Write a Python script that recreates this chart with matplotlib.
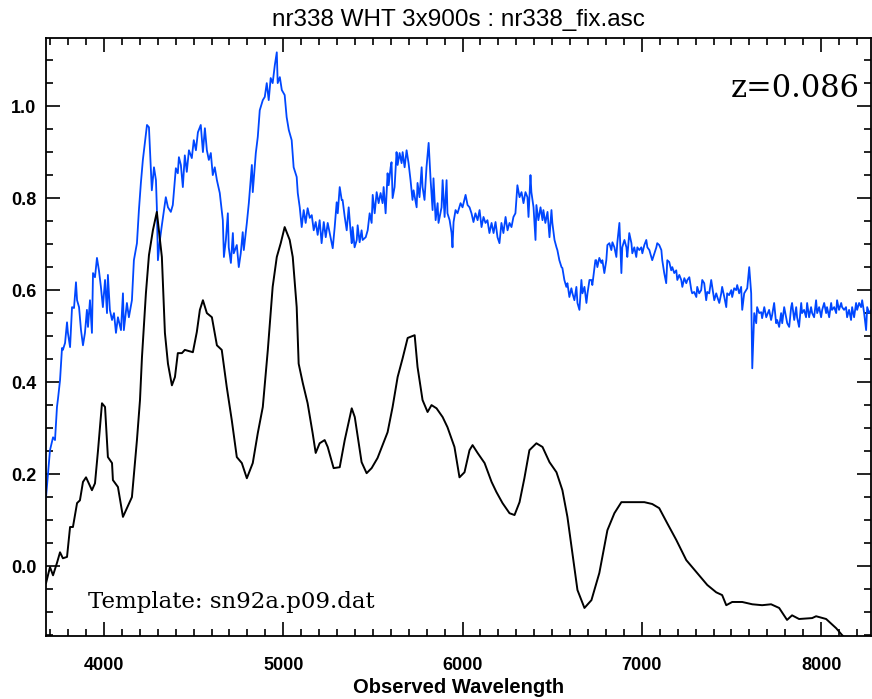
import matplotlib
matplotlib.use("Agg")
import matplotlib.pyplot as plt
from matplotlib.ticker import MultipleLocator

# observed spectrum (blue)
obs_wave = [3677, 3699, 3716, 3727, 3738, 3744, 3755, 3766, 3771, 3783, 3794, 3799, 3811, 3822,
            3833, 3844, 3850, 3861, 3872, 3883, 3894, 3905, 3911, 3922, 3933, 3939, 3950, 3961,
            3972, 3983, 3994, 4006, 4017, 4022, 4033, 4045, 4056, 4067, 4078, 4095, 4106, 4111,
            4128, 4139, 4156, 4167, 4184, 4195, 4206, 4217, 4228, 4240, 4251, 4262, 4267, 4279,
            4290, 4295, 4301, 4312, 4323, 4345, 4357, 4373, 4384, 4401, 4412, 4418, 4429, 4440,
            4451, 4462, 4474, 4490, 4501, 4513, 4524, 4540, 4552, 4563, 4574, 4585, 4596, 4607,
            4618, 4630, 4646, 4663, 4669, 4680, 4691, 4696, 4708, 4719, 4724, 4741, 4752, 4763,
            4774, 4780, 4797, 4808, 4825, 4830, 4847, 4858, 4869, 4886, 4897, 4908, 4919, 4930,
            4941, 4953, 4964, 4969, 4981, 4992, 5008, 5019, 5031, 5047, 5058, 5075, 5081, 5092,
            5103, 5114, 5125, 5136, 5148, 5159, 5170, 5181, 5192, 5203, 5214, 5226, 5237, 5248,
            5259, 5276, 5287, 5298, 5304, 5315, 5326, 5331, 5343, 5354, 5365, 5376, 5382, 5387,
            5398, 5410, 5415, 5426, 5437, 5443, 5460, 5471, 5482, 5493, 5499, 5510, 5521, 5532,
            5543, 5554, 5560, 5571, 5582, 5588, 5599, 5604, 5610, 5621, 5632, 5638, 5649, 5660,
            5666, 5677, 5688, 5699, 5710, 5721, 5727, 5744, 5749, 5760, 5772, 5777, 5788, 5799,
            5811, 5822, 5833, 5838, 5850, 5861, 5866, 5883, 5889, 5900, 5911, 5916, 5928, 5939,
            5944, 5950, 5961, 5972, 5989, 6000, 6017, 6028, 6039, 6050, 6061, 6072, 6084, 6095,
            6106, 6117, 6128, 6139, 6150, 6162, 6173, 6184, 6195, 6206, 6217, 6228, 6240, 6251,
            6262, 6273, 6284, 6295, 6306, 6318, 6329, 6340, 6351, 6362, 6368, 6379, 6384, 6396,
            6407, 6412, 6423, 6435, 6446, 6451, 6462, 6474, 6485, 6496, 6501, 6513, 6524, 6529,
            6540, 6552, 6557, 6568, 6579, 6585, 6596, 6607, 6613, 6624, 6635, 6641, 6652, 6663,
            6669, 6680, 6691, 6697, 6708, 6719, 6724, 6741, 6746, 6752, 6763, 6774, 6780, 6791,
            6802, 6808, 6819, 6830, 6836, 6847, 6858, 6863, 6875, 6886, 6891, 6903, 6914, 6919,
            6930, 6942, 6947, 6958, 6969, 6975, 6986, 6997, 7003, 7014, 7025, 7031, 7042, 7053,
            7058, 7070, 7081, 7086, 7097, 7109, 7114, 7125, 7136, 7142, 7153, 7164, 7170, 7181,
            7192, 7198, 7209, 7220, 7226, 7237, 7248, 7254, 7265, 7276, 7281, 7292, 7304, 7309,
            7320, 7331, 7337, 7348, 7359, 7365, 7376, 7387, 7393, 7404, 7415, 7421, 7432, 7443,
            7448, 7460, 7471, 7476, 7487, 7499, 7504, 7515, 7526, 7532, 7543, 7554, 7560, 7571,
            7582, 7588, 7599, 7610, 7616, 7627, 7638, 7643, 7655, 7666, 7671, 7683, 7694, 7699,
            7710, 7721, 7727, 7738, 7749, 7755, 7766, 7777, 7783, 7794, 7805, 7811, 7822, 7833,
            7838, 7850, 7861, 7866, 7877, 7889, 7894, 7905, 7916, 7922, 7933, 7944, 7950, 7961,
            7972, 7978, 7989, 8000, 8006, 8017, 8028, 8033, 8045, 8056, 8061, 8073, 8084, 8089,
            8100, 8112, 8117, 8128, 8139, 8145, 8156, 8167, 8173, 8184, 8195, 8201, 8212, 8223,
            8229, 8240, 8251, 8257, 8268, 8279]
obs_flux = [0.150, 0.252, 0.280, 0.274, 0.346, 0.365, 0.404, 0.474, 0.470, 0.485, 0.530, 0.507,
            0.476, 0.563, 0.561, 0.617, 0.578, 0.563, 0.513, 0.480, 0.507, 0.557, 0.520, 0.578,
            0.507, 0.637, 0.628, 0.670, 0.643, 0.607, 0.563, 0.622, 0.550, 0.633, 0.557, 0.535,
            0.550, 0.507, 0.541, 0.513, 0.593, 0.513, 0.572, 0.541, 0.578, 0.665, 0.702, 0.774,
            0.833, 0.883, 0.920, 0.959, 0.954, 0.861, 0.817, 0.867, 0.839, 0.780, 0.665, 0.709,
            0.741, 0.802, 0.780, 0.770, 0.785, 0.865, 0.854, 0.889, 0.872, 0.824, 0.893, 0.857,
            0.904, 0.887, 0.926, 0.904, 0.943, 0.959, 0.900, 0.952, 0.904, 0.883, 0.898, 0.850,
            0.867, 0.839, 0.811, 0.752, 0.672, 0.709, 0.767, 0.693, 0.659, 0.724, 0.680, 0.698,
            0.650, 0.680, 0.726, 0.687, 0.746, 0.789, 0.872, 0.813, 0.898, 0.933, 0.991, 1.013,
            1.020, 1.050, 1.013, 1.061, 1.050, 1.089, 1.117, 1.050, 1.063, 1.035, 1.024, 0.976,
            0.948, 0.926, 0.867, 0.846, 0.811, 0.780, 0.737, 0.774, 0.746, 0.778, 0.757, 0.763,
            0.730, 0.748, 0.720, 0.752, 0.702, 0.748, 0.715, 0.746, 0.724, 0.691, 0.737, 0.791,
            0.767, 0.824, 0.796, 0.796, 0.759, 0.730, 0.780, 0.726, 0.702, 0.737, 0.693, 0.709,
            0.741, 0.704, 0.730, 0.709, 0.715, 0.730, 0.767, 0.746, 0.807, 0.767, 0.813, 0.789,
            0.811, 0.789, 0.824, 0.767, 0.854, 0.828, 0.867, 0.878, 0.800, 0.824, 0.900, 0.872,
            0.898, 0.876, 0.900, 0.867, 0.904, 0.876, 0.839, 0.796, 0.817, 0.780, 0.833, 0.802,
            0.867, 0.824, 0.796, 0.867, 0.920, 0.839, 0.774, 0.843, 0.752, 0.789, 0.746, 0.780,
            0.839, 0.759, 0.839, 0.767, 0.752, 0.724, 0.693, 0.748, 0.774, 0.767, 0.789, 0.780,
            0.807, 0.785, 0.780, 0.767, 0.748, 0.767, 0.752, 0.774, 0.737, 0.759, 0.746, 0.752,
            0.724, 0.746, 0.724, 0.748, 0.715, 0.702, 0.746, 0.724, 0.759, 0.730, 0.746, 0.737,
            0.759, 0.767, 0.828, 0.802, 0.813, 0.789, 0.813, 0.802, 0.759, 0.850, 0.813, 0.780,
            0.709, 0.785, 0.752, 0.780, 0.752, 0.774, 0.746, 0.770, 0.715, 0.774, 0.746, 0.709,
            0.693, 0.687, 0.665, 0.650, 0.648, 0.622, 0.607, 0.615, 0.585, 0.604, 0.593, 0.578,
            0.607, 0.572, 0.557, 0.622, 0.593, 0.607, 0.572, 0.593, 0.622, 0.622, 0.611, 0.665,
            0.665, 0.650, 0.670, 0.659, 0.665, 0.637, 0.665, 0.698, 0.702, 0.687, 0.704, 0.693,
            0.672, 0.702, 0.746, 0.637, 0.693, 0.709, 0.693, 0.672, 0.724, 0.702, 0.680, 0.693,
            0.672, 0.693, 0.687, 0.693, 0.680, 0.698, 0.709, 0.693, 0.687, 0.672, 0.665, 0.680,
            0.693, 0.702, 0.698, 0.687, 0.665, 0.637, 0.615, 0.665, 0.661, 0.643, 0.650, 0.637,
            0.643, 0.622, 0.633, 0.622, 0.607, 0.626, 0.615, 0.622, 0.628, 0.600, 0.593, 0.596,
            0.585, 0.607, 0.593, 0.600, 0.622, 0.615, 0.578, 0.596, 0.593, 0.622, 0.607, 0.578,
            0.593, 0.585, 0.572, 0.593, 0.607, 0.585, 0.563, 0.593, 0.589, 0.600, 0.585, 0.604,
            0.600, 0.611, 0.593, 0.607, 0.557, 0.593, 0.600, 0.604, 0.650, 0.593, 0.430, 0.550,
            0.528, 0.563, 0.550, 0.552, 0.539, 0.563, 0.541, 0.546, 0.557, 0.535, 0.546, 0.572,
            0.528, 0.535, 0.520, 0.550, 0.528, 0.563, 0.541, 0.528, 0.520, 0.563, 0.572, 0.535,
            0.563, 0.541, 0.520, 0.572, 0.550, 0.557, 0.541, 0.572, 0.541, 0.563, 0.550, 0.541,
            0.578, 0.550, 0.563, 0.541, 0.557, 0.572, 0.550, 0.563, 0.541, 0.572, 0.557, 0.563,
            0.550, 0.578, 0.557, 0.572, 0.563, 0.557, 0.563, 0.541, 0.557, 0.535, 0.563, 0.541,
            0.572, 0.557, 0.572, 0.563, 0.578, 0.550, 0.513, 0.563, 0.550, 0.557]

# template sn92a.p09 (black)
tpl_wave = [3677, 3699, 3716, 3738, 3755, 3771, 3794, 3811, 3827, 3850, 3866, 3883, 3900, 3933,
            3950, 3967, 3989, 4006, 4022, 4045, 4050, 4078, 4106, 4128, 4156, 4184, 4201, 4212,
            4234, 4251, 4273, 4295, 4323, 4340, 4357, 4379, 4396, 4412, 4435, 4451, 4496, 4518,
            4535, 4552, 4574, 4602, 4630, 4657, 4685, 4713, 4741, 4769, 4797, 4830, 4858, 4886,
            4914, 4941, 4964, 4986, 5008, 5036, 5053, 5075, 5086, 5109, 5136, 5164, 5181, 5203,
            5231, 5248, 5281, 5315, 5343, 5382, 5399, 5437, 5465, 5493, 5526, 5554, 5582, 5610,
            5638, 5666, 5694, 5733, 5749, 5777, 5805, 5827, 5855, 5889, 5916, 5955, 5983, 6011,
            6039, 6056, 6084, 6123, 6162, 6189, 6223, 6262, 6290, 6318, 6345, 6373, 6412, 6446,
            6485, 6524, 6557, 6585, 6613, 6641, 6680, 6719, 6763, 6808, 6847, 6886, 6919, 6958,
            7014, 7058, 7097, 7142, 7192, 7248, 7304, 7365, 7415, 7448, 7471, 7504, 7560, 7616,
            7671, 7721, 7766, 7810, 7838, 7877, 7950, 7972, 8028, 8084, 8117, 8145]
tpl_flux = [-0.037, -0.002, -0.020, 0.007, 0.030, 0.017, 0.020, 0.085, 0.085, 0.137, 0.143,
            0.183, 0.193, 0.165, 0.180, 0.252, 0.354, 0.346, 0.237, 0.224, 0.187, 0.172, 0.107,
            0.126, 0.150, 0.274, 0.361, 0.454, 0.593, 0.676, 0.730, 0.770, 0.672, 0.507, 0.440,
            0.393, 0.411, 0.463, 0.463, 0.470, 0.465, 0.509, 0.557, 0.578, 0.550, 0.541, 0.480,
            0.470, 0.389, 0.317, 0.237, 0.224, 0.191, 0.224, 0.289, 0.346, 0.470, 0.607, 0.672,
            0.702, 0.737, 0.709, 0.672, 0.563, 0.440, 0.398, 0.354, 0.289, 0.246, 0.267, 0.274,
            0.259, 0.213, 0.215, 0.274, 0.343, 0.324, 0.226, 0.202, 0.213, 0.235, 0.263, 0.291,
            0.346, 0.411, 0.452, 0.496, 0.502, 0.433, 0.361, 0.335, 0.350, 0.343, 0.324, 0.302,
            0.259, 0.193, 0.204, 0.252, 0.263, 0.246, 0.224, 0.183, 0.161, 0.137, 0.115, 0.111,
            0.139, 0.191, 0.252, 0.267, 0.259, 0.226, 0.204, 0.165, 0.107, 0.028, -0.052, -0.091,
            -0.074, -0.015, 0.078, 0.115, 0.139, 0.139, 0.139, 0.139, 0.135, 0.126, 0.093, 0.057,
            0.013, -0.013, -0.041, -0.057, -0.063, -0.085, -0.078, -0.078, -0.083, -0.085, -0.083,
            -0.091, -0.117, -0.107, -0.115, -0.113, -0.109, -0.115, -0.135, -0.150, -0.160]

redshift_label = "z=0.086"
template_label = "Template: sn92a.p09.dat"
title = "nr338 WHT 3x900s : nr338_fix.asc"

fig = plt.figure(figsize=(8.72, 6.99), dpi=100)
ax = fig.add_axes([0.0528, 0.0901, 0.946, 0.8555])

ax.plot(obs_wave, obs_flux, color="#0047ff", lw=1.3)
ax.plot(tpl_wave, tpl_flux, color="black", lw=1.4)

ax.set_xlim(3677, 8278)
ax.set_ylim(-0.152, 1.148)

ax.xaxis.set_major_locator(MultipleLocator(1000))
ax.xaxis.set_minor_locator(MultipleLocator(100))
ax.yaxis.set_major_locator(MultipleLocator(0.2))
ax.yaxis.set_minor_locator(MultipleLocator(0.05))
ax.tick_params(which="both", direction="in", top=True, right=True, width=1.2, colors="black")
ax.tick_params(which="major", length=10, labelsize=13, pad=7)
ax.tick_params(axis="x", which="major", pad=15)
ax.tick_params(which="minor", length=5)
for lab in ax.get_xticklabels() + ax.get_yticklabels():
    lab.set_fontweight("bold")
    lab.set_family("Liberation Sans")
for sp in ax.spines.values():
    sp.set_linewidth(1.3)

ax.set_xlabel("Observed Wavelength", fontsize=14.5, fontweight="bold",
              family="Liberation Sans", labelpad=3)
ax.set_title(title, fontsize=17.5, family="Liberation Sans", pad=9)

ax.text(0.987, 0.916, redshift_label, transform=ax.transAxes, ha="right", va="center",
        fontsize=22, family="DejaVu Serif")
ax.text(0.051, 0.057, template_label, transform=ax.transAxes, ha="left", va="center",
        fontsize=16.5, family="DejaVu Serif")

fig.savefig("out.png", dpi=100)
